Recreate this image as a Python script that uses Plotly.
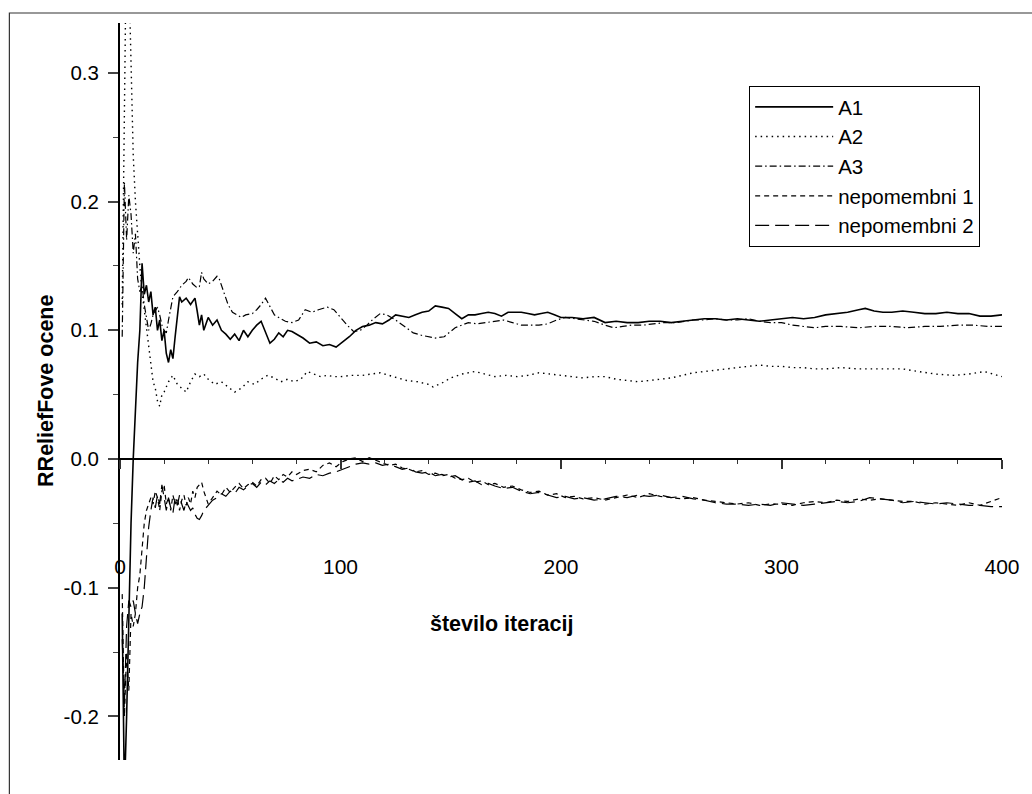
import plotly.graph_objects as go

# ---------------- data ----------------
series_names = ["A1", "A2", "A3", "nepomembni 1", "nepomembni 2"]

iter_a1 = [1, 2, 3, 4, 5, 6, 7, 8, 9, 10, 11, 12, 13, 14, 15, 16, 17, 18, 19, 20,
           21, 22, 23, 24, 25, 26, 27, 28, 30, 32, 34, 35, 36, 37, 38, 40, 42, 44, 46, 48,
           50, 52, 54, 56, 58, 60, 62, 64, 66, 68, 70, 72, 74, 76, 78, 80, 83, 86, 89, 92,
           95, 98, 101, 104, 107, 110, 113, 116, 119, 122, 125, 128, 131, 134, 137, 140, 143, 146, 149, 152,
           155, 158, 161, 164, 167, 170, 173, 176, 179, 182, 185, 188, 191, 194, 197, 200, 205, 210, 215, 220,
           225, 230, 235, 240, 245, 250, 255, 260, 265, 270, 275, 280, 285, 290, 295, 300, 305, 310, 315, 320,
           325, 330, 335, 338, 342, 346, 350, 355, 360, 365, 370, 375, 380, 385, 390, 395, 400]
a1 = [-0.12, -0.26, -0.20, -0.12, -0.05, 0.0, 0.04, 0.075, 0.10, 0.152, 0.128, 0.135, 0.122, 0.13, 0.112, 0.118, 0.10, 0.108, 0.092, 0.10,
      0.082, 0.075, 0.085, 0.078, 0.095, 0.11, 0.126, 0.122, 0.125, 0.12, 0.125, 0.115, 0.104, 0.112, 0.10, 0.11, 0.104, 0.108, 0.10, 0.097,
      0.093, 0.097, 0.092, 0.10, 0.095, 0.10, 0.104, 0.107, 0.098, 0.09, 0.093, 0.098, 0.095, 0.10, 0.099, 0.097, 0.094, 0.09, 0.091, 0.088,
      0.089, 0.087, 0.091, 0.095, 0.10, 0.103, 0.104, 0.106, 0.105, 0.108, 0.112, 0.111, 0.11, 0.112, 0.114, 0.115, 0.119, 0.118, 0.117, 0.113,
      0.109, 0.112, 0.112, 0.113, 0.114, 0.113, 0.111, 0.114, 0.114, 0.114, 0.113, 0.112, 0.113, 0.114, 0.112, 0.11, 0.11, 0.109, 0.11, 0.106,
      0.107, 0.106, 0.106, 0.107, 0.107, 0.106, 0.107, 0.108, 0.109, 0.109, 0.108, 0.109, 0.108, 0.107, 0.108, 0.109, 0.11, 0.109, 0.11, 0.112,
      0.113, 0.114, 0.116, 0.117, 0.115, 0.114, 0.114, 0.115, 0.114, 0.113, 0.113, 0.114, 0.113, 0.113, 0.111, 0.111, 0.112]

iter_a2 = [1, 2, 3, 4, 5, 6, 7, 8, 9, 10, 11, 12, 13, 14, 15, 16, 17, 18, 19, 20,
           22, 24, 26, 28, 30, 32, 34, 36, 38, 40, 43, 46, 49, 52, 55, 58, 61, 64, 67, 70,
           73, 76, 79, 82, 85, 88, 91, 94, 97, 100, 105, 110, 115, 118, 122, 126, 130, 135, 140, 142,
           146, 150, 155, 161, 165, 170, 175, 180, 185, 190, 195, 200, 205, 210, 215, 220, 225, 230, 235, 240,
           245, 250, 255, 260, 265, 270, 275, 280, 285, 290, 295, 300, 305, 310, 315, 320, 327, 335, 345, 355,
           362, 370, 378, 385, 392, 396, 400]
a2 = [0.12, 0.30, 0.42, 0.38, 0.30, 0.236, 0.20, 0.17, 0.15, 0.13, 0.115, 0.10, 0.09, 0.075, 0.06, 0.055, 0.045, 0.041, 0.05, 0.052,
      0.06, 0.065, 0.058, 0.055, 0.052, 0.06, 0.066, 0.064, 0.066, 0.062, 0.058, 0.06, 0.056, 0.052, 0.055, 0.06, 0.058, 0.062, 0.065, 0.063,
      0.06, 0.062, 0.06, 0.062, 0.068, 0.066, 0.064, 0.065, 0.064, 0.064, 0.065, 0.065, 0.066, 0.067, 0.065, 0.063, 0.061, 0.06, 0.058, 0.056,
      0.059, 0.063, 0.066, 0.068, 0.066, 0.064, 0.065, 0.064, 0.065, 0.067, 0.066, 0.065, 0.064, 0.063, 0.064, 0.064, 0.062, 0.061, 0.06, 0.061,
      0.062, 0.063, 0.065, 0.067, 0.068, 0.069, 0.07, 0.071, 0.072, 0.073, 0.072, 0.072, 0.071, 0.071, 0.07, 0.07, 0.071, 0.07, 0.07, 0.07,
      0.068, 0.066, 0.065, 0.066, 0.068, 0.066, 0.064]

iter_a3 = [1, 2, 3, 4, 5, 6, 7, 8, 9, 10, 11, 12, 13, 14, 15, 16, 17, 18, 19, 20,
           21, 22, 23, 24, 26, 28, 30, 31, 33, 35, 36, 37, 38, 40, 42, 44, 45, 47, 49, 51,
           53, 55, 57, 60, 62, 64, 66, 68, 70, 72, 75, 78, 81, 84, 87, 90, 94, 97, 100, 103,
           106, 109, 112, 115, 118, 121, 125, 129, 133, 137, 140, 143, 147, 150, 152, 155, 158, 162, 166, 170,
           174, 178, 182, 186, 190, 194, 198, 202, 206, 210, 215, 220, 224, 228, 232, 237, 242, 247, 252, 256,
           260, 265, 270, 275, 280, 285, 290, 295, 300, 305, 310, 315, 320, 327, 335, 342, 350, 357, 365, 372,
           380, 387, 394, 400]
a3 = [0.095, 0.215, 0.17, 0.205, 0.19, 0.16, 0.175, 0.14, 0.13, 0.135, 0.12, 0.108, 0.10, 0.105, 0.112, 0.115, 0.118, 0.112, 0.104, 0.10,
      0.098, 0.108, 0.118, 0.126, 0.13, 0.135, 0.138, 0.141, 0.136, 0.133, 0.134, 0.145, 0.14, 0.136, 0.138, 0.142, 0.14, 0.13, 0.12, 0.114,
      0.112, 0.11, 0.112, 0.113, 0.116, 0.12, 0.125, 0.118, 0.112, 0.11, 0.107, 0.106, 0.108, 0.116, 0.114, 0.116, 0.118, 0.116, 0.11, 0.104,
      0.099, 0.10, 0.104, 0.109, 0.113, 0.112, 0.108, 0.103, 0.098, 0.096, 0.095, 0.094, 0.095, 0.099, 0.102, 0.104, 0.106, 0.105, 0.106, 0.107,
      0.108, 0.106, 0.104, 0.104, 0.104, 0.105, 0.108, 0.11, 0.109, 0.108, 0.107, 0.104, 0.102, 0.103, 0.104, 0.104, 0.105, 0.106, 0.106, 0.107,
      0.108, 0.108, 0.109, 0.108, 0.108, 0.109, 0.107, 0.106, 0.106, 0.104, 0.103, 0.102, 0.103, 0.103, 0.102, 0.103, 0.103, 0.102, 0.103, 0.103,
      0.104, 0.104, 0.103, 0.103]

iter_n1 = [1, 2, 3, 4, 5, 6, 7, 8, 9, 10, 11, 12, 13, 14, 15, 16, 17, 18, 19, 20,
           21, 22, 23, 24, 25, 26, 27, 28, 29, 30, 31, 32, 33, 34, 35, 36, 37, 38, 39, 40,
           42, 44, 46, 48, 50, 52, 54, 56, 58, 60, 62, 64, 66, 68, 70, 72, 74, 76, 78, 80,
           83, 86, 89, 92, 95, 98, 101, 104, 107, 110, 113, 116, 119, 122, 125, 128, 131, 134, 137, 140,
           143, 146, 149, 152, 155, 158, 161, 164, 167, 170, 174, 178, 182, 186, 190, 194, 198, 202, 206, 210,
           215, 220, 225, 230, 235, 240, 245, 250, 255, 260, 265, 270, 275, 280, 285, 290, 295, 300, 305, 310,
           315, 320, 325, 330, 335, 340, 345, 350, 355, 360, 365, 370, 375, 380, 385, 390, 395, 400]
n1 = [-0.105, -0.20, -0.15, -0.18, -0.12, -0.13, -0.12, -0.10, -0.09, -0.07, -0.05, -0.04, -0.035, -0.03, -0.035, -0.025, -0.03, -0.04, -0.025, -0.02,
      -0.035, -0.03, -0.04, -0.028, -0.035, -0.03, -0.04, -0.032, -0.028, -0.036, -0.03, -0.035, -0.025, -0.03, -0.022, -0.02, -0.018, -0.025, -0.03, -0.035,
      -0.03, -0.025, -0.028, -0.022, -0.026, -0.022, -0.019, -0.023, -0.02, -0.018, -0.021, -0.016, -0.015, -0.019, -0.013, -0.016, -0.012, -0.014, -0.01, -0.012,
      -0.009, -0.008, -0.01, -0.005, -0.003, -0.006, -0.002, 0.0, 0.001, -0.002, 0.001, -0.001, -0.003, -0.005, -0.004, -0.007, -0.008, -0.01, -0.009, -0.012,
      -0.011, -0.013, -0.012, -0.015, -0.016, -0.015, -0.018, -0.017, -0.02, -0.019, -0.022, -0.021, -0.024, -0.026, -0.025, -0.028, -0.027, -0.03, -0.029, -0.031,
      -0.03, -0.032, -0.03, -0.028, -0.03, -0.027, -0.029, -0.03, -0.031, -0.03, -0.032, -0.033, -0.034, -0.035, -0.034, -0.036, -0.035, -0.035, -0.036, -0.034,
      -0.033, -0.034, -0.032, -0.033, -0.031, -0.032, -0.031, -0.032, -0.033, -0.033, -0.035, -0.034, -0.035, -0.036, -0.034, -0.036, -0.033, -0.03]

iter_n2 = [1, 2, 3, 4, 5, 6, 7, 8, 9, 10, 11, 12, 13, 14, 15, 16, 17, 18, 19, 20,
           21, 22, 23, 24, 25, 26, 27, 28, 29, 30, 31, 32, 33, 34, 35, 36, 37, 38, 40, 42,
           44, 46, 48, 50, 52, 54, 56, 58, 60, 62, 64, 66, 68, 70, 72, 74, 76, 78, 80, 83,
           86, 89, 92, 95, 98, 101, 104, 107, 110, 113, 116, 119, 122, 125, 128, 131, 134, 137, 140, 143,
           146, 149, 152, 155, 158, 161, 164, 167, 170, 174, 178, 182, 186, 190, 194, 198, 202, 206, 210, 215,
           220, 225, 230, 235, 240, 245, 250, 255, 260, 265, 270, 275, 280, 285, 290, 295, 300, 305, 310, 315,
           320, 325, 330, 335, 340, 345, 350, 355, 360, 365, 370, 375, 380, 385, 390, 395, 400]
n2 = [-0.14, -0.19, -0.13, -0.11, -0.115, -0.11, -0.12, -0.128, -0.12, -0.115, -0.10, -0.078, -0.053, -0.04, -0.03, -0.038, -0.028, -0.035, -0.02, -0.03,
      -0.04, -0.03, -0.038, -0.042, -0.03, -0.036, -0.028, -0.035, -0.04, -0.033, -0.037, -0.04, -0.038, -0.043, -0.046, -0.047, -0.044, -0.04, -0.036, -0.032,
      -0.03, -0.027, -0.029, -0.025, -0.027, -0.022, -0.024, -0.021, -0.019, -0.022, -0.018, -0.02, -0.017, -0.019, -0.016, -0.018, -0.015, -0.017, -0.016, -0.014,
      -0.015, -0.012, -0.013, -0.011, -0.01, -0.008, -0.006, -0.004, -0.003, -0.004, -0.003, -0.005, -0.004, -0.006, -0.008, -0.007, -0.01, -0.011, -0.01, -0.013,
      -0.012, -0.014, -0.013, -0.016, -0.018, -0.017, -0.02, -0.019, -0.021, -0.023, -0.022, -0.025, -0.027, -0.026, -0.028, -0.03, -0.029, -0.031, -0.03, -0.032,
      -0.031, -0.029, -0.03, -0.028, -0.029, -0.028, -0.03, -0.029, -0.031, -0.032, -0.034, -0.035, -0.035, -0.036, -0.035, -0.036, -0.034, -0.035, -0.036, -0.035,
      -0.034, -0.033, -0.034, -0.033, -0.03, -0.031, -0.032, -0.034, -0.033, -0.034, -0.035, -0.034, -0.035, -0.036, -0.036, -0.037, -0.037]

# axis ticks / labels
x_tickvals = [0, 100, 200, 300, 400]
x_ticktext = ["0", "100", "200", "300", "400"]
x_minor_vals = [v for v in range(20, 400, 20) if v % 100 != 0]
y_tickvals = [-0.2, -0.1, 0.0, 0.1, 0.2, 0.3]
y_ticktext = ["-0.2", "-0.1", "0.0", "0.1", "0.2", "0.3"]
y_minor_vals = [-0.15, -0.05, 0.05, 0.15, 0.25]
X_RANGE = [0, 400]
Y_RANGE = [-0.2339, 0.3388]

x_title = "število iteracij"
y_title = "RReliefFove ocene"

# ---------------- figure ----------------
W, H = 1032, 794
ML, MR, MT, MB = 120, 19, 23, 34
PW, PH = W - ML - MR, H - MT - MB


def px_x(px):
    return (px - ML) / PW


def px_y(py):
    return (H - MB - py) / PH


line_styles = [
    dict(color="black", width=1.6, dash="solid"),
    dict(color="black", width=1.4, dash="1.5px,4px"),
    dict(color="black", width=1.2, dash="7px,3px,1.5px,3px"),
    dict(color="black", width=1.2, dash="5px,4px"),
    dict(color="black", width=1.2, dash="14px,6px"),
]

fig = go.Figure()
for name, xs, ys, st in zip(series_names,
                            [iter_a1, iter_a2, iter_a3, iter_n1, iter_n2],
                            [a1, a2, a3, n1, n2], line_styles):
    fig.add_trace(go.Scatter(x=xs, y=ys, mode="lines", name=name, line=st,
                             hoverinfo="skip"))

# carrier trace for the axis drawn along y = 0
fig.add_trace(go.Scatter(x=[None], y=[None], xaxis="x2", yaxis="y",
                         showlegend=False, hoverinfo="skip"))

zero_pos = (0 - Y_RANGE[0]) / (Y_RANGE[1] - Y_RANGE[0])
FONT = "Liberation Sans, Arial, Helvetica, sans-serif"

fig.update_layout(
    width=W, height=H,
    margin=dict(l=ML, r=MR, t=MT, b=MB, pad=0),
    paper_bgcolor="white", plot_bgcolor="white",
    font=dict(family=FONT, color="black", size=21),
    showlegend=True,
    xaxis=dict(range=X_RANGE, anchor="free", position=px_y(552),
               showline=False, ticks="", tickvals=x_tickvals, ticktext=x_ticktext,
               showgrid=False, zeroline=False, tickfont=dict(size=21)),
    xaxis2=dict(range=X_RANGE, overlaying="x", anchor="free", position=zero_pos,
                side="bottom", showline=True, linecolor="black", linewidth=1.5,
                ticks="outside", ticklen=9, tickwidth=1.5, tickcolor="#333",
                tickvals=x_tickvals, showticklabels=False,
                minor=dict(ticks="outside", ticklen=4, tickwidth=1.2, tickcolor="#333",
                           tickvals=x_minor_vals, showgrid=False),
                showgrid=False, zeroline=False),
    yaxis=dict(range=Y_RANGE, showline=True, linecolor="black", linewidth=2,
               ticks="outside", ticklen=10, tickwidth=1.5, tickcolor="#444",
               tickvals=y_tickvals, ticktext=y_ticktext,
               minor=dict(ticks="outside", ticklen=5, tickwidth=1.2, tickcolor="#444",
                          tickvals=y_minor_vals, showgrid=False),
               showgrid=False, zeroline=False, tickfont=dict(size=20.5),
               ticklabelstandoff=5),
    legend=dict(x=px_x(757), y=px_y(166.5), xanchor="left", yanchor="middle",
                bordercolor="black", borderwidth=1, bgcolor="white",
                font=dict(size=20.5, family=FONT), itemwidth=78, tracegroupgap=0),
    annotations=[
        dict(text="<b>%s</b>" % x_title, xref="paper", yref="paper",
             x=px_x(506), y=px_y(624), xanchor="center", yanchor="middle",
             showarrow=False, font=dict(size=21.5, family=FONT)),
        dict(text="<b>%s</b>" % y_title, xref="paper", yref="paper",
             x=px_x(45), y=px_y(391), xanchor="center", yanchor="middle",
             textangle=-90, showarrow=False, font=dict(size=21.5, family=FONT)),
    ],
    shapes=[
        dict(type="rect", xref="paper", yref="paper",
             x0=px_x(8), y0=px_y(H + 20), x1=px_x(W + 20), y1=px_y(13),
             line=dict(color="#333", width=1.2), fillcolor="rgba(0,0,0,0)", layer="below"),
    ],
)

fig.write_html("out.html")
